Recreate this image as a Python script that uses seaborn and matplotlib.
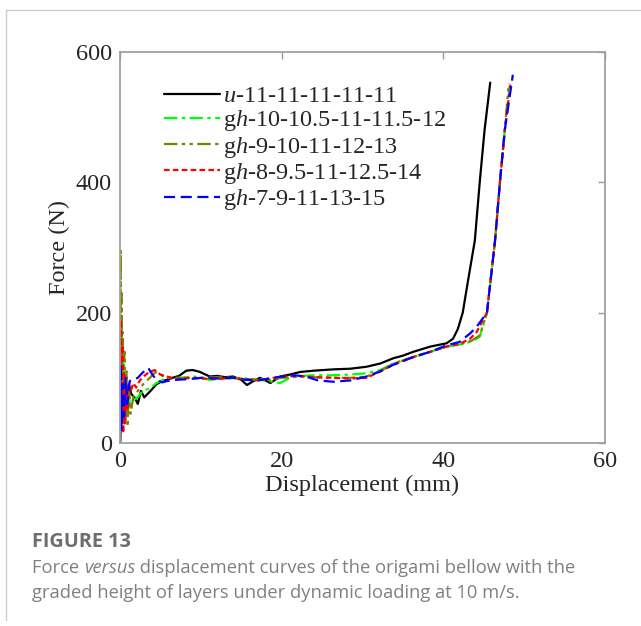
import numpy as np
import pandas as pd
import seaborn as sns
import matplotlib.pyplot as plt
from matplotlib.lines import Line2D

# data: displacement (mm) / force (N)
u_d = [0, 0.1, 0.2, 0.3, 0.4, 0.5, 0.7, 0.9, 1.1, 1.4, 1.8, 2.2, 2.6, 3.0, 3.7, 4.5, 5.2, 5.8, 6.5, 7.3,
       8.2, 9.0, 9.9, 11.1, 12.0, 13.0, 14.0, 15.0, 15.7, 16.5, 17.3, 18.0, 18.6, 19.8, 21.0, 22.3, 24.0,
       26.4, 28.5, 30.5, 32.2, 33.8, 35.0, 36.3, 38.4, 40.4, 41.2, 41.8, 42.4, 43.0, 43.9, 44.5, 45.1, 45.8]
u_f = [0, 40, 95, 60, 110, 70, 100, 65, 90, 75, 70, 60, 80, 70, 79, 90, 95, 97, 100, 103,
       111, 112, 109, 102, 103, 101, 102, 97, 89, 95, 100, 96, 92, 102, 105, 109, 111,
       113, 114, 117, 122, 130, 134, 140, 148, 153, 160, 175, 200, 245, 311, 400, 480, 553]

g10_d = [0, 0.05, 0.12, 0.2, 0.3, 0.4, 0.5, 0.6, 0.75, 0.9, 1.1, 1.3, 1.65, 2.2, 2.8, 3.7, 4.5, 5.8, 7.0,
         8.2, 9.1, 10.0, 11.1, 12.5, 14.0, 15.5, 17.0, 18.5, 19.8, 21.0, 22.5, 24.0, 26.4, 28.5, 30.5,
         32.2, 33.8, 36.3, 38.4, 40.4, 42.5, 43.5, 44.5, 45.4, 46.4, 47.0, 47.6, 48.2]
g10_f = [0, 80, 160, 50, 130, 30, 120, 45, 85, 55, 75, 50, 66, 70, 80, 84, 92, 100, 100,
         101, 102, 100, 97, 98, 100, 99, 97, 95, 92, 100, 103, 104, 104, 105, 107,
         112, 122, 132, 140, 148, 152, 156, 163, 200, 311, 400, 480, 548]

g9_d = [0, 0.05, 0.1, 0.15, 0.2, 0.27, 0.35, 0.45, 0.55, 0.65, 0.8, 0.95, 1.1, 1.3, 1.65, 2.2, 3.0, 3.7,
        4.4, 5.0, 5.7, 6.5, 8.0, 10.0, 12.0, 14.0, 15.5, 17.0, 18.5, 20.0, 22.0, 24.0, 26.4, 28.5, 30.5,
        32.2, 33.8, 36.3, 38.4, 40.4, 42.5, 43.5, 44.5, 45.4, 46.4, 47.0, 47.6, 48.1]
g9_f = [0, 150, 295, 120, 230, 60, 170, 40, 140, 30, 110, 25, 90, 45, 71, 80, 92, 100,
        109, 105, 100, 100, 99, 100, 101, 100, 97, 98, 97, 100, 102, 101, 100, 100, 102,
        110, 122, 132, 140, 148, 153, 157, 165, 200, 311, 400, 480, 552]

g8_d = [0, 0.05, 0.12, 0.2, 0.3, 0.4, 0.5, 0.6, 0.75, 0.9, 1.1, 1.35, 1.65, 2.0, 2.4, 2.9, 3.5, 4.3, 5.0,
        5.8, 7.0, 8.5, 10.0, 12.0, 14.0, 15.5, 17.0, 18.5, 20.0, 22.0, 24.0, 26.4, 28.5, 30.5, 32.2,
        33.8, 36.3, 38.4, 40.4, 42.0, 43.3, 44.1, 45.4, 46.4, 47.0, 47.6, 48.3]
g8_f = [0, 60, 189, 40, 150, 15, 110, 30, 90, 50, 85, 80, 92, 85, 95, 102, 108, 112, 105,
        102, 98, 100, 99, 98, 100, 98, 96, 99, 102, 103, 101, 100, 99, 100, 110,
        120, 132, 140, 148, 152, 160, 170, 200, 311, 400, 480, 550]

g7_d = [0, 0.1, 0.2, 0.35, 0.5, 0.7, 0.9, 1.2, 1.65, 2.2, 2.8, 3.5, 4.0, 4.5, 5.2, 5.8, 7.0, 8.5, 10.0,
        12.0, 14.0, 15.5, 17.0, 18.5, 20.0, 21.5, 23.0, 23.5, 24.5, 26.4, 28.5, 30.5, 32.2, 33.8, 36.3,
        38.4, 40.4, 42.0, 43.3, 44.1, 45.4, 46.4, 47.0, 47.6, 48.6]
g7_f = [0, 120, 20, 90, 40, 100, 60, 95, 97, 100, 108, 115, 105, 97, 93, 95, 97, 98, 100,
        99, 100, 97, 96, 99, 102, 104, 102, 100, 96, 94, 96, 102, 110, 120, 132,
        140, 150, 155, 168, 178, 200, 311, 400, 480, 565]

labels = [r'$\it{u}$-11-11-11-11-11',
          r'g$\it{h}$-10-10.5-11-11.5-12',
          r'g$\it{h}$-9-10-11-12-13',
          r'g$\it{h}$-8-9.5-11-12.5-14',
          r'g$\it{h}$-7-9-11-13-15']
series = [(u_d, u_f), (g10_d, g10_f), (g9_d, g9_f), (g8_d, g8_f), (g7_d, g7_f)]
colors = ['black', '#00ff00', '#808000', '#ff0000', '#0000ff']
styles = ['-', (0, (6, 2, 1.5, 2)), (0, (6, 2, 1.5, 2, 1.5, 2)), (0, (2.5, 1.5)), (0, (5, 2.5))]

sns.set_style('white')
plt.rcParams['font.family'] = ['Liberation Serif', 'DejaVu Serif']
plt.rcParams['mathtext.fontset'] = 'custom'
plt.rcParams['mathtext.rm'] = 'Liberation Serif'
plt.rcParams['mathtext.it'] = 'Liberation Serif:italic'

fig = plt.figure(figsize=(6.41, 6.26), dpi=100)
ax = fig.add_axes([120 / 641, 1 - 443 / 626, 485 / 641, 391 / 626])

for (d, f), lab, c, ls in zip(series, labels, colors, styles):
    df = pd.DataFrame({'d': d, 'f': f})
    sns.lineplot(data=df, x='d', y='f', ax=ax, color=c, linestyle=ls, lw=1.6,
                 estimator=None, sort=False, label=lab)

ax.set_xlim(0, 60)
ax.set_ylim(0, 600)
ax.set_xticks([0, 20, 40, 60])
ax.set_yticks([0, 200, 400, 600])
ax.tick_params(direction='in', length=5, width=1, color='#999999', labelsize=17.5,
               top=True, right=True, pad=6)
for s in ax.spines.values():
    s.set_color('#a0a0a0')
    s.set_linewidth(1.3)
ax.set_xlabel('Displacement (mm)', fontsize=17.5, labelpad=2)
ax.set_ylabel('Force (N)', fontsize=17.5, labelpad=4)

leg = ax.legend(loc='upper left', bbox_to_anchor=(0.07, 0.94), frameon=False, fontsize=17.5,
                handlelength=2.3, handletextpad=0.15, labelspacing=0.05, borderaxespad=0)

# page frame lines
fig.add_artist(Line2D([6 / 641, 1], [1 - 10 / 626, 1 - 10 / 626], color='#cccccc', lw=1))
fig.add_artist(Line2D([6 / 641, 6 / 641], [1 - 10 / 626, 1 - 620 / 626], color='#cccccc', lw=1))

# caption
cap = ['Open Sans', 'DejaVu Sans']
fig.text(32 / 641, 1 - 542 / 626, 'FIGURE 13', family=cap, fontweight='bold', fontsize=14.3,
         color='#6e6e6e', va='center')
fig.canvas.draw()
r = fig.canvas.get_renderer()
y1 = 1 - 568 / 626
t1 = fig.text(32 / 641, y1, 'Force ', family=cap, fontsize=13.2, color='#808080', va='center')
w1 = t1.get_window_extent(r).width
t2 = fig.text((32 + w1) / 641, y1, 'versus', family=cap, style='italic', fontsize=13.2,
              color='#808080', va='center')
w2 = t2.get_window_extent(r).width
fig.text((32 + w1 + w2) / 641, y1, ' displacement curves of the origami bellow with the',
         family=cap, fontsize=13.2, color='#808080', va='center')
fig.text(32 / 641, 1 - 593 / 626, 'graded height of layers under dynamic loading at 10 m/s.',
         family=cap, fontsize=13.2, color='#808080', va='center')

fig.savefig('out.png', dpi=100)
